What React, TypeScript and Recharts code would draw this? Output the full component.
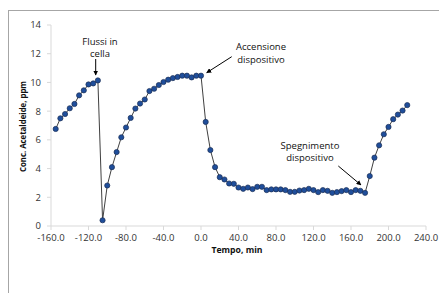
import { LineChart, Line, XAxis, YAxis } from 'recharts';

// tempo (min) and acetaldehyde concentration (ppm)
const TIMES = [
  -155, -150, -145, -140, -135, -130, -125, -120, -115, -110,
  -105, -100, -95, -90, -85, -80, -75, -70, -65, -60, -55, -50, -45, -40, -35, -30, -25, -20, -15, -10, -5, 0,
  5, 10, 15, 20, 25, 30, 35, 40, 45, 50, 55, 60, 65, 70, 75, 80, 85, 90, 95, 100, 105,
  110, 115, 120, 125, 130, 135, 140, 145, 150, 155, 160, 165, 170, 175,
  180, 185, 190, 195, 200, 205, 210, 215, 220,
];

const CONC = [
  6.76, 7.5, 7.8, 8.2, 8.5, 9.1, 9.45, 9.86, 9.93, 10.14,
  0.4, 2.82, 4.1, 5.15, 6.18, 6.86, 7.53, 8.18, 8.53, 8.81, 9.4, 9.56, 9.82, 10.03, 10.19, 10.3, 10.38, 10.47, 10.47, 10.35, 10.47, 10.47,
  7.25, 5.29, 4.1, 3.4, 3.24, 2.96, 2.94, 2.68, 2.59, 2.68, 2.57, 2.73, 2.73, 2.5, 2.55, 2.55, 2.55, 2.5, 2.38, 2.38, 2.47,
  2.5, 2.59, 2.5, 2.36, 2.5, 2.45, 2.31, 2.36, 2.43, 2.5, 2.36, 2.5, 2.45, 2.31,
  3.48, 4.76, 5.62, 6.39, 6.9, 7.44, 7.76, 8.04, 8.42,
];

const X_TICKS = [-160, -120, -80, -40, 0, 40, 80, 120, 160, 200, 240];
const Y_TICKS = [0, 2, 4, 6, 8, 10, 12, 14];

const data = TIMES.map((t, i) => ({ t, c: CONC[i] }));

const FONT = "'Open Sans', sans-serif";
const tickStyle = { fontSize: 9.5, fill: '#333', fontFamily: FONT };

export default function App() {
  return (
    <div style={{ position: 'relative', width: 439, height: 285, overflow: 'hidden', background: '#fff', fontFamily: FONT }}>
      <div style={{ position: 'absolute', left: 0, top: 2, width: 460, height: 300, borderLeft: '1px solid #a6a6a6', borderTop: '1px solid #a6a6a6' }} />
      <LineChart width={439} height={285} data={data} margin={{ top: 17, right: 21, bottom: 33, left: 0 }}>
        <XAxis
          dataKey="t"
          type="number"
          domain={[-160, 240]}
          ticks={X_TICKS}
          tickFormatter={(v: number) => v.toFixed(1)}
          tick={tickStyle}
          height={34}
          tickSize={4}
          tickMargin={4}
          axisLine={{ stroke: '#d9d9d9' }}
          tickLine={{ stroke: '#d9d9d9' }}
          interval={0}
        />
        <YAxis
          type="number"
          domain={[0, 14]}
          ticks={Y_TICKS}
          tick={tickStyle}
          width={43}
          tickSize={4}
          tickMargin={6}
          axisLine={{ stroke: '#d9d9d9' }}
          tickLine={{ stroke: '#d9d9d9' }}
          interval={0}
        />
        <Line
          dataKey="c"
          stroke="#404040"
          strokeWidth={1}
          dot={{ r: 2.6, fill: '#1f4e9b', stroke: '#1c2f55', strokeWidth: 0.7 }}
          isAnimationActive={false}
        />
      </LineChart>
      <svg width={439} height={285} style={{ position: 'absolute', left: 0, top: 0, pointerEvents: 'none' }}>
        <defs>
          <marker id="ah" viewBox="0 0 10 10" refX="9" refY="5" markerWidth="5" markerHeight="5" orient="auto">
            <path d="M0,0 L10,5 L0,10 z" fill="#000" />
          </marker>
        </defs>
        <g fontFamily={FONT} fontSize={9.5} fontWeight={500} fill="#111" textAnchor="middle">
          <text x={92} y={36.5}>Flussi in</text>
          <text x={92} y={48.5}>cella</text>
          <text x={253} y={42}>Accensione</text>
          <text x={253} y={54.5}>dispositivo</text>
          <text x={302} y={141}>Spegnimento</text>
          <text x={302} y={153}>dispositivo</text>
        </g>
        <line x1={87.7} y1={51} x2={87.7} y2={67} stroke="#000" strokeWidth={1} markerEnd="url(#ah)" />
        <line x1={223.7} y1={48.7} x2={198.7} y2={64.7} stroke="#000" strokeWidth={1} markerEnd="url(#ah)" />
        <line x1={330.3} y1={158} x2={353} y2={177} stroke="#000" strokeWidth={1} markerEnd="url(#ah)" />
        <text x={229} y={244.5} fontFamily={FONT} fontSize={9} fontWeight="bold" fill="#111" textAnchor="middle" textLength={51} lengthAdjust="spacingAndGlyphs">
          Tempo, min
        </text>
        <text
          x={0}
          y={0}
          transform="translate(18,118.5) rotate(-90)"
          fontFamily={FONT}
          fontSize={9}
          fontWeight="bold"
          fill="#111"
          textAnchor="middle"
          textLength={91}
          lengthAdjust="spacingAndGlyphs"
        >
          Conc. Acetaldeide, ppm
        </text>
      </svg>
    </div>
  );
}
